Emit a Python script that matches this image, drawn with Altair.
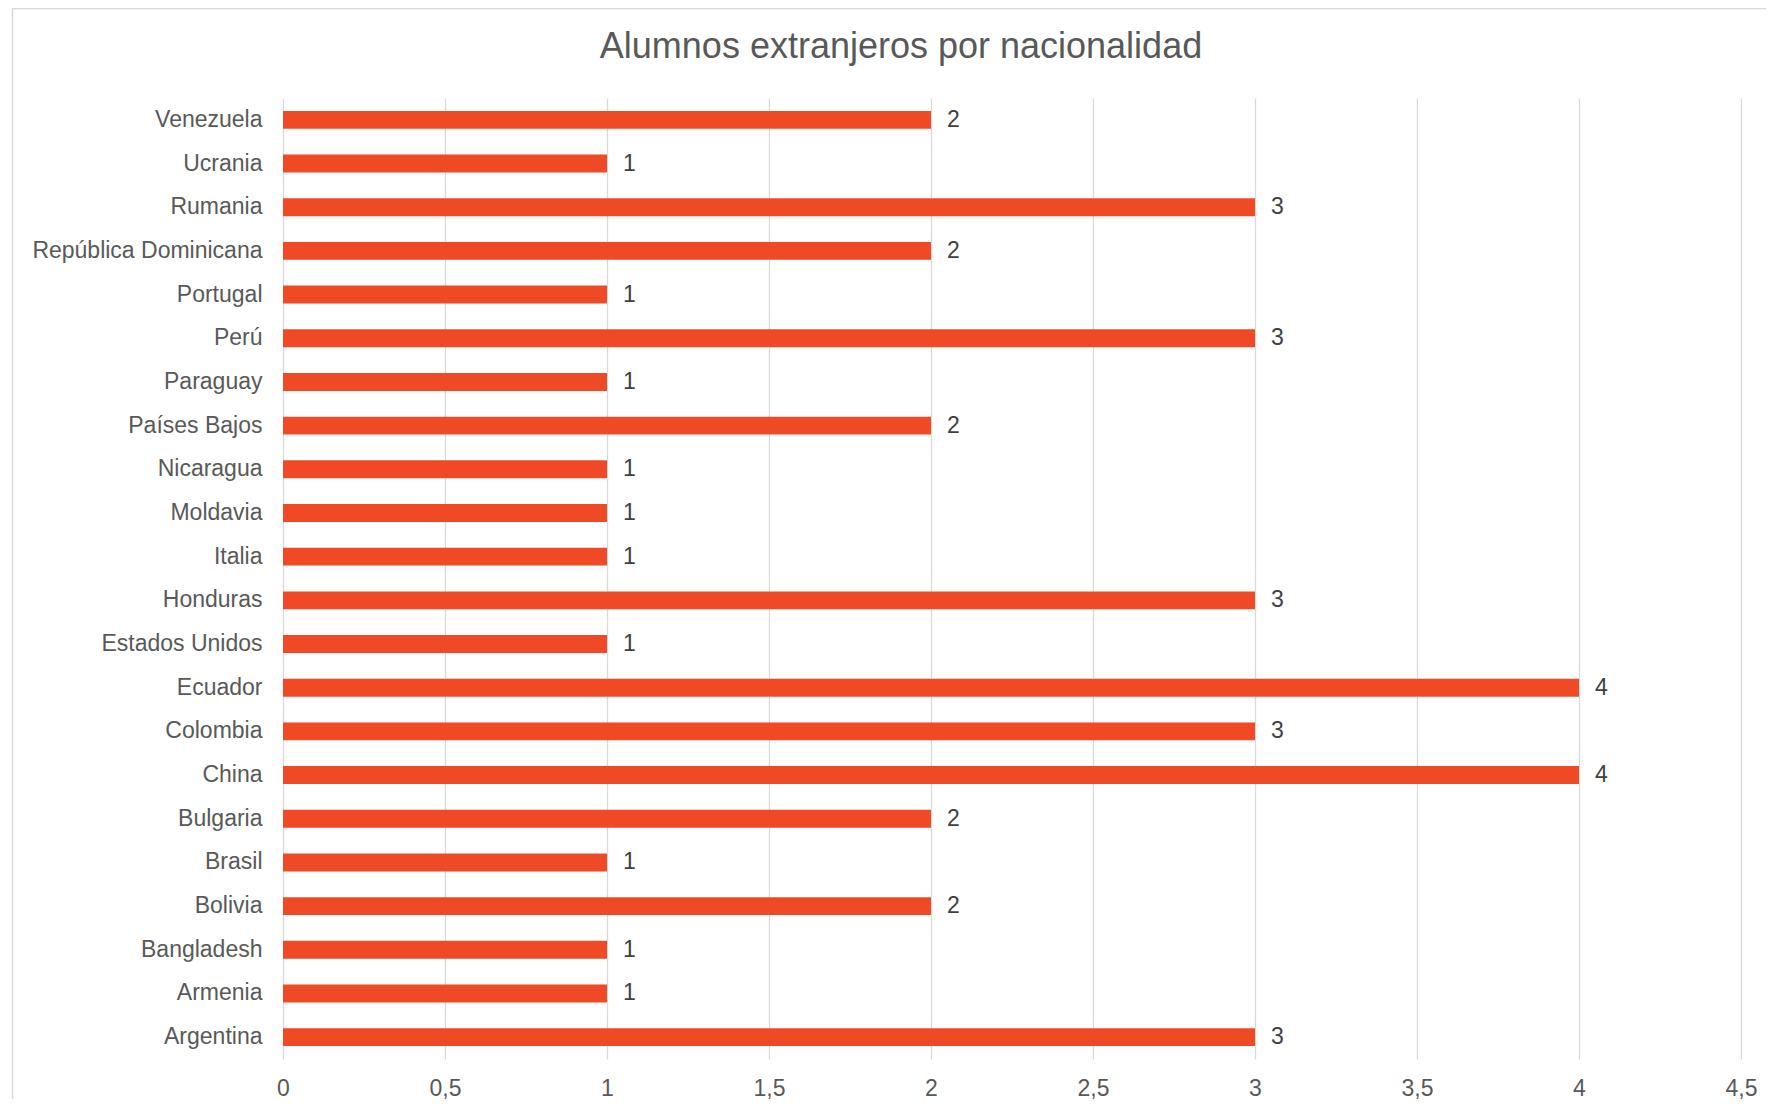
import altair as alt
import pandas as pd

countries = ["Venezuela", "Ucrania", "Rumania", "República Dominicana", "Portugal",
             "Perú", "Paraguay", "Países Bajos", "Nicaragua", "Moldavia", "Italia",
             "Honduras", "Estados Unidos", "Ecuador", "Colombia", "China", "Bulgaria",
             "Brasil", "Bolivia", "Bangladesh", "Armenia", "Argentina"]
values = [2, 1, 3, 2, 1, 3, 1, 2, 1, 1, 1, 3, 1, 4, 3, 4, 2, 1, 2, 1, 1, 3]
x_ticks = [0, 0.5, 1, 1.5, 2, 2.5, 3, 3.5, 4, 4.5]
title_text = "Alumnos extranjeros por nacionalidad"

df = pd.DataFrame({"Pais": countries, "Alumnos": values})

FONT = "Liberation Sans"
TXT = "#595959"
BAR = "#EF4A25"
GRID = "#D9D9D9"

y_enc = alt.Y("Pais:N", sort=countries, title=None,
              scale=alt.Scale(paddingInner=0.59, paddingOuter=0.295),
              axis=alt.Axis(domain=False, ticks=False, labelFont=FONT, labelFontSize=23,
                            labelColor=TXT, labelPadding=21, grid=False, labelLimit=400))
x_enc = alt.X("Alumnos:Q", title=None,
              scale=alt.Scale(domain=[0, 4.5], nice=False),
              axis=alt.Axis(values=x_ticks, domain=False, ticks=False, grid=True,
                            gridColor=GRID, gridWidth=1.3, labelFont=FONT, labelFontSize=23,
                            labelColor=TXT, labelPadding=18, labelFlush=False,
                            labelExpr="replace(toString(datum.value), '.', ',')"))

base = alt.Chart(df)
bars = base.mark_bar(color=BAR).encode(x=x_enc, y=y_enc)
labels = base.mark_text(align="left", baseline="middle", dx=16, font=FONT,
                        fontSize=23, color="#404040").encode(
    x="Alumnos:Q", y=alt.Y("Pais:N", sort=countries), text="Alumnos:Q")

border = alt.Chart(alt.Data(values=[{}])).mark_rect(
    fill="white", fillOpacity=0, stroke=GRID, strokeWidth=1.5).encode(
    x=alt.value(-270.5), x2=alt.value(2000), y=alt.value(-89.5), y2=alt.value(2000))

title = alt.Chart(alt.Data(values=[{"t": title_text}])).mark_text(
    font=FONT, fontSize=36, color=TXT, align="center", baseline="middle").encode(
    x=alt.value(618), y=alt.value(-51), text="t:N")

chart = alt.layer(border, bars, labels, title).properties(
    width=1458, height=961,
    autosize=alt.AutoSizeParams(type="none"),
    padding={"left": 275, "top": 90, "right": 25, "bottom": 40},
).configure_view(stroke=None)

chart.save("out.html", embed_options={"renderer": "svg", "actions": False})
